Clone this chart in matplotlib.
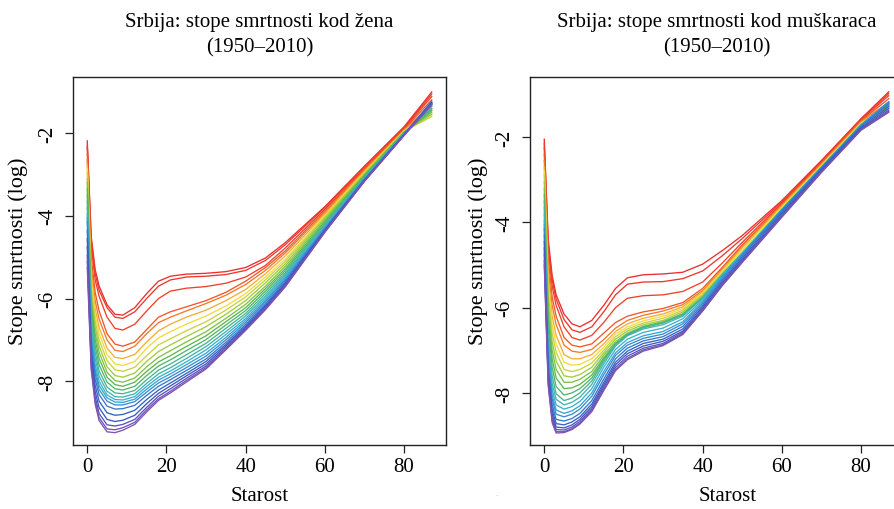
import numpy as np
import matplotlib
matplotlib.use("Agg")
import matplotlib.pyplot as plt
from matplotlib.colors import LinearSegmentedColormap

# ---------------- data (log mortality rates) ----------------
ages = [0, 1, 2, 3, 5, 7, 9, 12, 15, 18, 21, 25, 30, 35, 40, 45, 50, 60, 70, 80, 87]
years = [1950, 1951, 1952, 1954, 1957, 1960, 1963, 1966, 1969, 1972, 1975, 1978,
         1981, 1984, 1987, 1990, 1993, 1996, 1999, 2002, 2005, 2008, 2010]

women_1950 = [-2.19, -4.50, -5.30, -5.70, -6.15, -6.38, -6.40, -6.22, -5.88, -5.58, -5.46, -5.41, -5.39, -5.35, -5.25, -5.02, -4.65, -3.78, -2.80, -1.85, -1.01]
women_1951 = [-2.30, -4.60, -5.40, -5.80, -6.22, -6.45, -6.48, -6.32, -6.00, -5.70, -5.55, -5.48, -5.46, -5.42, -5.32, -5.08, -4.70, -3.80, -2.82, -1.87, -1.06]
women_1952 = [-2.35, -4.75, -5.55, -5.95, -6.45, -6.72, -6.76, -6.62, -6.30, -6.00, -5.82, -5.75, -5.71, -5.63, -5.48, -5.20, -4.78, -3.84, -2.85, -1.89, -1.12]
women_1954 = [-2.50, -5.00, -5.85, -6.30, -6.85, -7.10, -7.15, -7.05, -6.75, -6.45, -6.32, -6.20, -6.05, -5.85, -5.58, -5.25, -4.85, -3.88, -2.88, -1.91, -1.20]
women_1957 = [-2.65, -5.20, -6.05, -6.50, -7.00, -7.25, -7.28, -7.15, -6.85, -6.58, -6.45, -6.30, -6.12, -5.92, -5.66, -5.32, -4.90, -3.92, -2.90, -1.93, -1.30]
women_1960 = [-2.75, -5.40, -6.25, -6.70, -7.20, -7.42, -7.45, -7.35, -7.05, -6.78, -6.62, -6.45, -6.28, -6.05, -5.78, -5.40, -4.97, -3.96, -2.93, -1.94, -1.45]
women_1963 = [-2.85, -5.55, -6.40, -6.85, -7.35, -7.58, -7.62, -7.52, -7.20, -6.95, -6.80, -6.62, -6.42, -6.18, -5.88, -5.48, -5.05, -4.00, -2.95, -1.95, -1.55]
women_1966 = [-2.95, -5.70, -6.55, -7.00, -7.50, -7.72, -7.76, -7.66, -7.38, -7.12, -6.97, -6.78, -6.56, -6.28, -5.96, -5.55, -5.10, -4.03, -2.97, -1.96, -1.60]
women_1969 = [-3.10, -5.85, -6.70, -7.15, -7.65, -7.86, -7.90, -7.80, -7.52, -7.28, -7.12, -6.92, -6.68, -6.38, -6.05, -5.62, -5.16, -4.06, -2.99, -1.97, -1.55]
women_1972 = [-3.20, -6.00, -6.85, -7.30, -7.78, -7.98, -8.02, -7.92, -7.65, -7.42, -7.26, -7.05, -6.80, -6.48, -6.14, -5.70, -5.22, -4.10, -3.01, -1.98, -1.50]
women_1975 = [-3.35, -6.15, -7.00, -7.45, -7.90, -8.08, -8.12, -8.02, -7.76, -7.53, -7.38, -7.16, -6.90, -6.56, -6.22, -5.76, -5.28, -4.14, -3.03, -1.99, -1.46]
women_1978 = [-3.50, -6.30, -7.15, -7.60, -8.02, -8.18, -8.21, -8.12, -7.86, -7.63, -7.48, -7.26, -6.99, -6.64, -6.29, -5.82, -5.33, -4.18, -3.05, -2.00, -1.42]
women_1981 = [-3.65, -6.45, -7.30, -7.75, -8.14, -8.28, -8.30, -8.22, -7.96, -7.73, -7.58, -7.36, -7.08, -6.72, -6.36, -5.88, -5.38, -4.21, -3.07, -2.01, -1.40]
women_1984 = [-3.80, -6.60, -7.45, -7.88, -8.24, -8.37, -8.38, -8.30, -8.05, -7.82, -7.67, -7.45, -7.16, -6.80, -6.42, -5.94, -5.42, -4.24, -3.08, -2.02, -1.36]
women_1987 = [-3.95, -6.75, -7.60, -8.00, -8.33, -8.44, -8.45, -8.37, -8.12, -7.90, -7.75, -7.53, -7.24, -6.87, -6.48, -5.99, -5.46, -4.27, -3.10, -2.02, -1.33]
women_1990 = [-4.05, -6.90, -7.72, -8.10, -8.40, -8.50, -8.51, -8.43, -8.19, -7.97, -7.82, -7.60, -7.32, -6.94, -6.53, -6.04, -5.50, -4.29, -3.11, -2.03, -1.30]
women_1993 = [-4.15, -7.00, -7.82, -8.20, -8.48, -8.57, -8.57, -8.49, -8.26, -8.04, -7.89, -7.67, -7.39, -7.00, -6.58, -6.08, -5.54, -4.31, -3.12, -2.03, -1.26]
women_1996 = [-4.35, -7.15, -7.95, -8.32, -8.60, -8.67, -8.66, -8.58, -8.34, -8.12, -7.96, -7.74, -7.46, -7.06, -6.63, -6.13, -5.58, -4.33, -3.13, -2.04, -1.23]
women_1999 = [-4.55, -7.30, -8.10, -8.48, -8.76, -8.82, -8.80, -8.70, -8.44, -8.21, -8.04, -7.81, -7.52, -7.11, -6.67, -6.17, -5.62, -4.35, -3.14, -2.04, -1.26]
women_2002 = [-4.75, -7.45, -8.25, -8.64, -8.92, -8.97, -8.94, -8.82, -8.54, -8.29, -8.11, -7.87, -7.58, -7.15, -6.70, -6.20, -5.65, -4.37, -3.15, -2.05, -1.28]
women_2005 = [-4.95, -7.55, -8.38, -8.78, -9.05, -9.08, -9.04, -8.92, -8.63, -8.36, -8.18, -7.93, -7.63, -7.19, -6.73, -6.23, -5.68, -4.38, -3.16, -2.05, -1.30]
women_2008 = [-5.10, -7.65, -8.48, -8.88, -9.15, -9.17, -9.12, -8.99, -8.69, -8.42, -8.24, -7.98, -7.67, -7.22, -6.75, -6.25, -5.70, -4.39, -3.16, -2.06, -1.30]
women_2010 = [-5.25, -7.72, -8.55, -8.95, -9.22, -9.24, -9.18, -9.04, -8.74, -8.46, -8.28, -8.02, -7.70, -7.24, -6.77, -6.27, -5.72, -4.40, -3.17, -2.06, -1.32]

men_1950 = [-2.05, -4.40, -5.25, -5.70, -6.15, -6.38, -6.45, -6.30, -5.95, -5.55, -5.30, -5.23, -5.21, -5.17, -4.98, -4.66, -4.31, -3.49, -2.55, -1.57, -0.94]
men_1951 = [-2.15, -4.50, -5.35, -5.80, -6.28, -6.52, -6.58, -6.45, -6.10, -5.70, -5.45, -5.40, -5.39, -5.32, -5.14, -4.78, -4.38, -3.52, -2.57, -1.58, -0.98]
men_1952 = [-2.25, -4.65, -5.50, -5.95, -6.45, -6.70, -6.76, -6.65, -6.35, -6.00, -5.78, -5.72, -5.70, -5.62, -5.40, -4.95, -4.47, -3.55, -2.59, -1.60, -1.03]
men_1954 = [-2.40, -4.85, -5.75, -6.20, -6.70, -6.88, -6.92, -6.85, -6.60, -6.35, -6.20, -6.10, -6.02, -5.88, -5.55, -5.05, -4.53, -3.58, -2.61, -1.62, -1.10]
men_1957 = [-2.55, -5.05, -5.95, -6.40, -6.88, -7.02, -7.05, -6.98, -6.75, -6.48, -6.30, -6.18, -6.08, -5.93, -5.60, -5.08, -4.56, -3.60, -2.63, -1.64, -1.18]
men_1960 = [-2.70, -5.30, -6.20, -6.65, -7.10, -7.20, -7.20, -7.10, -6.85, -6.56, -6.38, -6.25, -6.15, -5.98, -5.63, -5.11, -4.60, -3.62, -2.65, -1.66, -1.25]
men_1963 = [-2.80, -5.50, -6.40, -6.85, -7.28, -7.35, -7.33, -7.20, -6.93, -6.62, -6.45, -6.31, -6.20, -6.02, -5.66, -5.15, -4.65, -3.65, -2.67, -1.68, -1.30]
men_1966 = [-2.90, -5.65, -6.60, -7.05, -7.45, -7.50, -7.45, -7.30, -7.00, -6.68, -6.50, -6.36, -6.25, -6.06, -5.69, -5.18, -4.70, -3.68, -2.69, -1.70, -1.33]
men_1969 = [-3.05, -5.85, -6.80, -7.25, -7.60, -7.63, -7.57, -7.40, -7.06, -6.74, -6.55, -6.40, -6.30, -6.10, -5.72, -5.21, -4.73, -3.71, -2.71, -1.71, -1.30]
men_1972 = [-3.20, -6.05, -7.00, -7.45, -7.75, -7.75, -7.68, -7.50, -7.12, -6.80, -6.60, -6.44, -6.33, -6.14, -5.75, -5.23, -4.75, -3.73, -2.73, -1.72, -1.27]
men_1975 = [-3.35, -6.25, -7.20, -7.65, -7.90, -7.88, -7.80, -7.58, -7.18, -6.84, -6.63, -6.46, -6.35, -6.16, -5.77, -5.24, -4.76, -3.74, -2.74, -1.72, -1.25]
men_1978 = [-3.50, -6.45, -7.40, -7.85, -8.05, -8.00, -7.90, -7.65, -7.22, -6.86, -6.64, -6.47, -6.36, -6.17, -5.77, -5.24, -4.76, -3.74, -2.75, -1.73, -1.23]
men_1981 = [-3.65, -6.65, -7.60, -8.02, -8.18, -8.12, -8.00, -7.72, -7.26, -6.86, -6.62, -6.45, -6.35, -6.16, -5.76, -5.22, -4.74, -3.73, -2.74, -1.72, -1.22]
men_1984 = [-3.80, -6.85, -7.78, -8.15, -8.28, -8.22, -8.10, -7.80, -7.32, -6.90, -6.66, -6.50, -6.40, -6.20, -5.78, -5.22, -4.72, -3.71, -2.73, -1.72, -1.20]
men_1987 = [-3.95, -7.00, -7.92, -8.28, -8.38, -8.32, -8.20, -7.90, -7.40, -6.98, -6.74, -6.58, -6.48, -6.26, -5.82, -5.25, -4.73, -3.70, -2.72, -1.72, -1.18]
men_1990 = [-4.05, -7.15, -8.05, -8.40, -8.48, -8.42, -8.30, -8.00, -7.50, -7.06, -6.82, -6.66, -6.56, -6.33, -5.86, -5.27, -4.74, -3.70, -2.71, -1.72, -1.17]
men_1993 = [-4.15, -7.25, -8.15, -8.50, -8.56, -8.50, -8.38, -8.08, -7.58, -7.12, -6.88, -6.72, -6.62, -6.38, -5.90, -5.30, -4.76, -3.71, -2.71, -1.73, -1.18]
men_1996 = [-4.30, -7.40, -8.28, -8.62, -8.66, -8.60, -8.48, -8.18, -7.68, -7.20, -6.95, -6.78, -6.68, -6.44, -5.94, -5.34, -4.80, -3.74, -2.73, -1.75, -1.22]
men_1999 = [-4.45, -7.52, -8.40, -8.72, -8.75, -8.68, -8.56, -8.26, -7.76, -7.28, -7.02, -6.84, -6.74, -6.50, -5.98, -5.38, -4.84, -3.78, -2.76, -1.78, -1.28]
men_2002 = [-4.60, -7.62, -8.50, -8.80, -8.82, -8.75, -8.62, -8.32, -7.82, -7.34, -7.08, -6.90, -6.79, -6.55, -6.02, -5.42, -4.88, -3.82, -2.79, -1.80, -1.33]
men_2005 = [-4.75, -7.70, -8.58, -8.86, -8.87, -8.80, -8.67, -8.37, -7.87, -7.40, -7.14, -6.95, -6.84, -6.58, -6.05, -5.45, -4.91, -3.85, -2.81, -1.82, -1.37]
men_2008 = [-4.90, -7.78, -8.65, -8.91, -8.91, -8.84, -8.71, -8.41, -7.92, -7.45, -7.19, -6.99, -6.87, -6.61, -6.07, -5.47, -4.93, -3.87, -2.82, -1.83, -1.40]
men_2010 = [-5.00, -7.83, -8.70, -8.94, -8.93, -8.86, -8.73, -8.44, -7.95, -7.48, -7.22, -7.02, -6.89, -6.63, -6.08, -5.48, -4.94, -3.88, -2.83, -1.84, -1.42]

women = [women_1950, women_1951, women_1952, women_1954, women_1957, women_1960, women_1963,
         women_1966, women_1969, women_1972, women_1975, women_1978, women_1981, women_1984,
         women_1987, women_1990, women_1993, women_1996, women_1999, women_2002, women_2005,
         women_2008, women_2010]
men = [men_1950, men_1951, men_1952, men_1954, men_1957, men_1960, men_1963,
       men_1966, men_1969, men_1972, men_1975, men_1978, men_1981, men_1984,
       men_1987, men_1990, men_1993, men_1996, men_1999, men_2002, men_2005,
       men_2008, men_2010]

title_lines = [("Srbija: stope smrtnosti kod žena", "(1950\u20132010)"),
               ("Srbija: stope smrtnosti kod muškaraca", "(1950\u20132010)")]
xlabel = "Starost"
ylabel = "Stope smrtnosti (log)"
xticks = [0, 20, 40, 60, 80]
yticks = [-2, -4, -6, -8]

# ---------------- style ----------------
plt.rcParams['font.family'] = ['Liberation Serif', 'DejaVu Serif']

stops = [(0.00, (0.92, 0.18, 0.18)),
         (0.10, (0.95, 0.42, 0.15)),
         (0.21, (0.97, 0.86, 0.25)),
         (0.32, (0.62, 0.80, 0.25)),
         (0.42, (0.35, 0.72, 0.30)),
         (0.63, (0.22, 0.70, 0.85)),
         (0.84, (0.20, 0.35, 0.76)),
         (1.00, (0.50, 0.32, 0.70))]
cmap = LinearSegmentedColormap.from_list("rb", stops)

W, H = 895, 510
fig = plt.figure(figsize=(W / 100, H / 100), dpi=100)

def px_axes(x0, x1, ytop, ybot):
    return fig.add_axes([x0 / W, 1 - ybot / H, (x1 - x0) / W, (ybot - ytop) / H])

def ftext(x, y, s, **kw):
    return fig.text(x / W, 1 - y / H, s, ha='center', va='center', **kw)

ax1 = px_axes(73, 446, 78, 445.7)
ax2 = px_axes(530, 903, 78, 445.7)

panels = [(ax1, women, (-9.531, -0.647)), (ax2, men, (-9.214, -0.592))]
title_x = [259.5, 716.5]
xlabel_x = [260, 728]
ylabel_x = [18, 478]

for k, (ax, series, ylim) in enumerate(panels):
    for yr, vals in zip(years, series):
        c = cmap((yr - 1950) / 60)
        ax.plot(ages, vals, color=c, lw=0.95, solid_joinstyle='round')
    ax.set_xlim(-3.6, 90.6)
    ax.set_ylim(*ylim)
    ax.set_xticks(xticks)
    ax.set_yticks(yticks)
    ax.set_xticklabels([str(t) for t in xticks], fontsize=15)
    ax.set_yticklabels([str(t) for t in yticks], fontsize=15, rotation=90, va='center')
    ax.tick_params(direction='out', length=6, width=0.9, color='#222222')
    ax.tick_params(axis='x', pad=3)
    ax.tick_params(axis='y', pad=5)
    for s in ax.spines.values():
        s.set_linewidth(1.0)
        s.set_color('#222222')
    ftext(title_x[k], 22, title_lines[k][0], fontsize=15)
    ftext(title_x[k], 48, title_lines[k][1], fontsize=15)
    ftext(xlabel_x[k], 497, xlabel, fontsize=15)
    ftext(ylabel_x[k], 251, ylabel, fontsize=16, rotation=90)

ftext(496, 497, '\u00b7', fontsize=5, color='#777777')

fig.savefig("out.png", dpi=100)
